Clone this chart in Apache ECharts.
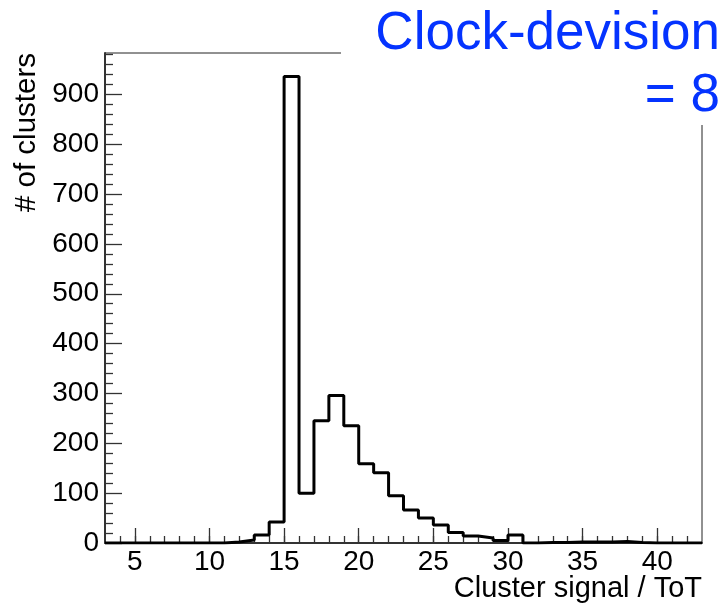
<!DOCTYPE html>
<html>
<head>
<meta charset="utf-8">
<script src="https://cdn.jsdelivr.net/npm/echarts@6/dist/echarts.min.js"></script>
<style>
html, body { margin: 0; padding: 0; background: #fff; }
#main { width: 725px; height: 609px; }
</style>
</head>
<body>
<div id="main"></div>
<script>
// histogram bins: width 1, first bin starts at 3
var binLow = 3;
var binWidth = 1;
var counts = [0, 0, 0, 0, 0, 0, 0, 0, 2, 6,
              16, 42, 936, 100, 245, 296, 235, 159, 141, 95,
              66, 50, 36, 21, 14, 10, 5, 16, 0, 1,
              1, 2, 2, 2, 3, 1, 0, 0, 0, 0];

var xMajorTicks = [5, 10, 15, 20, 25, 30, 35, 40];
var xMinorTicks = [4, 5, 6, 7, 8, 9, 10, 11, 12, 13, 14, 15, 16, 17, 18, 19, 20, 21, 22, 23,
                   24, 25, 26, 27, 28, 29, 30, 31, 32, 33, 34, 35, 36, 37, 38, 39, 40, 41, 42];
var yMajorTicks = [0, 100, 200, 300, 400, 500, 600, 700, 800, 900];
var yMinorTicks = [20, 40, 60, 80, 120, 140, 160, 180, 220, 240, 260, 280, 320, 340, 360, 380,
                   420, 440, 460, 480, 520, 540, 560, 580, 620, 640, 660, 680, 720, 740, 760, 780,
                   820, 840, 860, 880, 920, 940, 960, 980];

var xMin = 3, xMax = 43, yMin = 0, yMax = 983;
var font = 'Liberation Sans';

// step outline points: left edge of each bin, plus closing right edge
var stepData = counts.map(function (c, i) { return [binLow + i * binWidth, c]; });
stepData.push([binLow + counts.length * binWidth, counts[counts.length - 1]]);

var chartDom = document.getElementById('main');
var myChart = echarts.init(chartDom);
var option;

option = {
    animation: false,
    grid: {
        left: 105,
        right: 23,
        top: 53,
        bottom: 66,
        show: true,
        borderColor: '#222',
        borderWidth: 1
    },
    xAxis: [
        {
            type: 'value',
            min: xMin,
            max: xMax,
            position: 'bottom',
            axisLine: { show: true, onZero: false, lineStyle: { color: '#333', width: 2 } },
            axisTick: { show: true, inside: true, length: 15, customValues: xMajorTicks,
                lineStyle: { color: '#333', width: 1.3 } },
            axisLabel: { customValues: xMajorTicks, fontSize: 28, fontFamily: font, color: '#000', margin: 5 },
            splitLine: { show: false }
        },
        {
            type: 'value',
            min: xMin,
            max: xMax,
            position: 'bottom',
            axisLine: { show: false, onZero: false },
            axisTick: { show: true, inside: true, length: 7, customValues: xMinorTicks,
                lineStyle: { color: '#333', width: 1.3 } },
            axisLabel: { show: false },
            splitLine: { show: false }
        }
    ],
    yAxis: [
        {
            type: 'value',
            min: yMin,
            max: yMax,
            position: 'left',
            axisLine: { show: true, onZero: false, lineStyle: { color: '#333', width: 2 } },
            axisTick: { show: true, inside: true, length: 17, customValues: yMajorTicks,
                lineStyle: { color: '#333', width: 1.3 } },
            axisLabel: { customValues: yMajorTicks, fontSize: 28, fontFamily: font, color: '#000', margin: 6 },
            splitLine: { show: false }
        },
        {
            type: 'value',
            min: yMin,
            max: yMax,
            position: 'left',
            axisLine: { show: false, onZero: false },
            axisTick: { show: true, inside: true, length: 8, customValues: yMinorTicks,
                lineStyle: { color: '#333', width: 1.3 } },
            axisLabel: { show: false },
            splitLine: { show: false }
        }
    ],
    graphic: [
        {
            type: 'rect',
            z: 100,
            shape: { x: 341, y: 0, width: 384, height: 125 },
            style: { fill: '#fff' }
        },
        {
            type: 'text',
            z: 101,
            x: 720,
            y: 34,
            style: { text: 'Clock-devision', font: '53px "Liberation Sans"', fill: '#0433ff',
                align: 'right', verticalAlign: 'middle' }
        },
        {
            type: 'text',
            z: 101,
            x: 720,
            y: 96,
            style: { text: '= 8', font: '53px "Liberation Sans"', fill: '#0433ff',
                align: 'right', verticalAlign: 'middle' }
        },
        {
            type: 'text',
            x: 27,
            y: 53,
            rotation: Math.PI / 2,
            style: { text: '# of clusters', font: '29.5px "Liberation Sans"', fill: '#000',
                align: 'right', verticalAlign: 'middle' }
        },
        {
            type: 'text',
            x: 702,
            y: 589,
            style: { text: 'Cluster signal / ToT', font: '29px "Liberation Sans"', fill: '#000',
                align: 'right', verticalAlign: 'middle' }
        }
    ],
    series: [
        {
            name: 'clusters',
            type: 'line',
            step: 'end',
            xAxisIndex: 0,
            yAxisIndex: 0,
            symbol: 'none',
            data: stepData,
            lineStyle: { color: '#000', width: 3 }
        }
    ]
};

option && myChart.setOption(option);
</script>
</body>
</html>
